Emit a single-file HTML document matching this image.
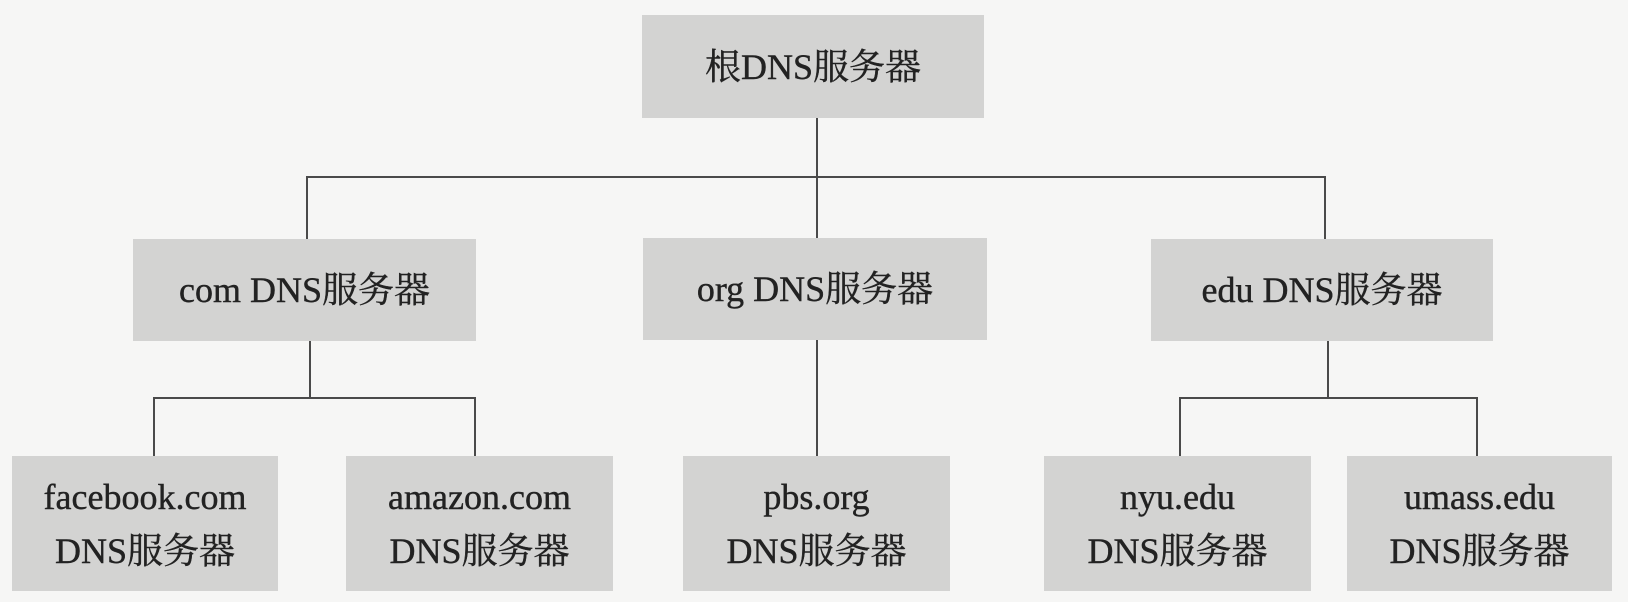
<!DOCTYPE html>
<html><head><meta charset="utf-8"><style>
body{margin:0;width:1628px;height:602px;background:#f6f6f5;position:relative;overflow:hidden}
.b{position:absolute;background:#d3d3d2;display:flex;align-items:center;justify-content:center;text-align:center;font-family:"Liberation Serif","Noto Serif CJK SC",serif;font-size:36px;color:#222;line-height:54px;-webkit-text-stroke:0.4px #222}
.l{position:absolute;background:#4a4a4a}
</style></head><body>
<div class="l" style="left:816px;top:118px;width:2px;height:122px"></div>
<div class="l" style="left:306px;top:176px;width:1020px;height:2px"></div>
<div class="l" style="left:306px;top:176px;width:2px;height:64px"></div>
<div class="l" style="left:1324px;top:176px;width:2px;height:64px"></div>
<div class="l" style="left:816px;top:340px;width:2px;height:117px"></div>
<div class="l" style="left:309px;top:340px;width:2px;height:58px"></div>
<div class="l" style="left:153px;top:397px;width:323px;height:2px"></div>
<div class="l" style="left:153px;top:397px;width:2px;height:60px"></div>
<div class="l" style="left:474px;top:397px;width:2px;height:60px"></div>
<div class="l" style="left:1327px;top:340px;width:2px;height:58px"></div>
<div class="l" style="left:1179px;top:397px;width:299px;height:2px"></div>
<div class="l" style="left:1179px;top:397px;width:2px;height:60px"></div>
<div class="l" style="left:1476px;top:397px;width:2px;height:60px"></div>
<div class="b" style="left:642px;top:15px;width:342px;height:103px">根DNS服务器</div>
<div class="b" style="left:133px;top:239px;width:343px;height:102px">com DNS服务器</div>
<div class="b" style="left:643px;top:238px;width:344px;height:102px">org DNS服务器</div>
<div class="b" style="left:1151px;top:239px;width:342px;height:102px">edu DNS服务器</div>
<div class="b" style="left:12px;top:456px;width:266px;height:135px">facebook.com<br>DNS服务器</div>
<div class="b" style="left:346px;top:456px;width:267px;height:135px">amazon.com<br>DNS服务器</div>
<div class="b" style="left:683px;top:456px;width:267px;height:135px">pbs.org<br>DNS服务器</div>
<div class="b" style="left:1044px;top:456px;width:267px;height:135px">nyu.edu<br>DNS服务器</div>
<div class="b" style="left:1347px;top:456px;width:265px;height:135px">umass.edu<br>DNS服务器</div>
</body></html>
